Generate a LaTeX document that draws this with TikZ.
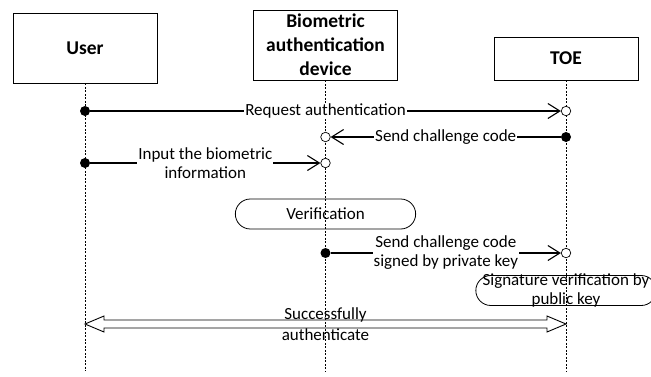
\documentclass[tikz,border=0pt]{standalone}
\usepackage{fontspec}
\setmainfont{Carlito}
\usetikzlibrary{arrows.meta,shapes.misc,calc}

\begin{document}
\begin{tikzpicture}[x=1pt, y=-1pt,
		  actor/.style={draw, line width=0.8pt, minimum width=144pt, inner sep=1pt, align=center, font=\fontsize{19.5}{24}\selectfont\bfseries},
		  lifeline/.style={line width=0.5pt, dash pattern=on 2pt off 1.5pt},
		  src/.style={circle, fill=black, inner sep=0pt, minimum size=10pt},
		  dst/.style={circle, draw, fill=white, line width=0.7pt, inner sep=0pt, minimum size=9.5pt},
		  msg/.style={line width=1.1pt, -{Straight Barb[length=12pt,width=15pt,line width=1.1pt]}},
		  msg text/.style={fill=white, inner sep=1pt, align=center, font=\fontsize{17}{19}\selectfont},
		  act/.style={rounded rectangle, draw, line width=0.8pt, minimum width=187pt, minimum height=30pt, font=\fontsize{17}{19}\selectfont}]
		  \useasboundingbox (0,0) rectangle (651,376);
		  \node[actor, minimum height=70pt] (user) at (85,48) {User};
		  \node[actor, minimum height=70pt] (bio) at (325.5,45) {Biometric\\authentication\\device};
		  \node[actor, minimum height=43pt] (toe) at (566,58.5) {TOE};
		  \foreach \p in {user,bio,toe}{
		      \coordinate (\p end) at (\p.south |- 0,371);
		      \draw[lifeline] (\p.south) -- (\p end);
		  }
		  \node[src] (req a) at (user.south |- 0,111) {};
		  \node[dst] (req b) at (toe.south |- 0,111) {};
		  \draw[msg] (req a) -- node[msg text]{Request authentication} (req b);
		  \node[src] (chal a) at (toe.south |- 0,137) {};
		  \node[dst] (chal b) at (bio.south |- 0,137) {};
		  \draw[msg] (chal a) -- node[msg text]{Send challenge code} (chal b);
		  \node[src] (inp a) at (user.south |- 0,163) {};
		  \node[dst] (inp b) at (bio.south |- 0,163) {};
		  \draw[msg] (inp a) -- node[msg text]{Input the biometric\\information} (inp b);
		  \node[act] (verif) at (bio.south |- 0,214) {Verification};
		  \node[src] (sgn a) at (bio.south |- 0,253) {};
		  \node[dst] (sgn b) at (toe.south |- 0,253) {};
		  \draw[msg] (sgn a) -- node[msg text]{Send challenge code\\signed by private key} (sgn b);
		  \node[act] (sig) at (toe.south |- 0,290.5) {};
		  \node[msg text, fill=none, inner sep=0pt] (sig text) at (sig.center) {Signature verification by\\public key};
		  \coordinate (ok a) at (user.south |- 0,324);
		  \coordinate (ok b) at (toe.south |- 0,324);
		  \draw[line width=0.9pt] (ok a) -- ++(19,-8) -- ++(0,4) -- ($(ok b)+(-19,-4)$) -- ++(0,-4) -- (ok b)
		      -- ++(-19,8) -- ++(0,-4) -- ($(ok a)+(19,4)$) -- ++(0,4) -- cycle;
		  \node[align=center, font=\fontsize{17}{21}\selectfont] (ok text) at ($(ok a)!0.5!(ok b)$) {Successfully\\authenticate};
	\end{tikzpicture}
\end{document}
